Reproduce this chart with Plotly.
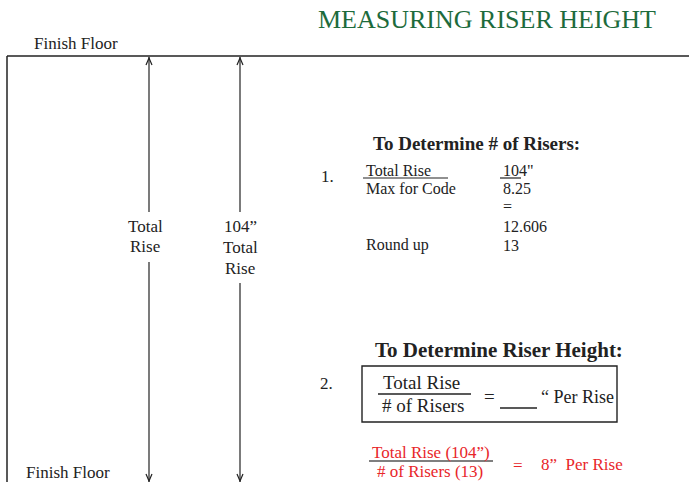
import plotly.graph_objects as go

# ---- values shown in the diagram ----
total_rise_in = 104
max_riser_code = 8.25
risers_exact = 12.606
risers_rounded = 13
riser_height_in = 8

title_text = "MEASURING RISER HEIGHT"
floor_labels = ["Finish Floor", "Finish Floor"]
step1_rows = ["Total Rise", "Max for Code", "", "", "Round up"]
step1_vals = [f'{total_rise_in}"', f"{max_riser_code}", "=", f"{risers_exact}", f"{risers_rounded}"]

W, H = 689, 482
SERIF = "'Liberation Serif', 'Times New Roman', serif"
INK = "#222222"
RED = "#e8262a"
GREEN = "#1d6b3c"

fig = go.Figure()
fig.add_trace(go.Scatter(x=[0, W], y=[0, H], mode="markers",
                         marker=dict(opacity=0), hoverinfo="skip", showlegend=False))

shapes = []
def line(x0, y0, x1, y1, color=INK, width=1.3):
    shapes.append(dict(type="line", x0=x0, y0=y0, x1=x1, y1=y1,
                       xref="x", yref="y", line=dict(color=color, width=width)))

def path(d, color=INK, width=1.2):
    shapes.append(dict(type="path", path=d, xref="x", yref="y",
                       line=dict(color=color, width=width)))

# floor frame
line(7, 56, W, 56, width=1.5)
line(7, 56, 7, H, width=1.5)

# dimension arrows
for ax, gap_top, gap_bot in [(149, 212, 262), (240, 212, 283)]:
    line(ax, 57, ax, gap_top, width=1.2)
    line(ax, gap_bot, ax, H, width=1.2)
    path(f"M {ax-3},65 L {ax},58 L {ax+3},65")
    path(f"M {ax-3},474 L {ax},481 L {ax+3},474")

anns = []
def txt(x, y, s, size=14, color=INK, anchor="left", bold=False):
    if bold:
        s = f"<b>{s}</b>"
    anns.append(dict(x=x, y=y, xref="x", yref="y", text=s, showarrow=False,
                     xanchor=anchor, yanchor="middle",
                     font=dict(family=SERIF, size=size, color=color)))

# title
txt(487, 19, title_text, size=26, color=GREEN, anchor="center")
# floor labels
txt(32, 43, floor_labels[0], size=17)
txt(24, 472, floor_labels[1], size=17)

# arrow labels
txt(145, 226, "Total", size=17, anchor="center")
txt(145, 246, "Rise", size=17, anchor="center")
txt(240, 226, f"{total_rise_in}\u201d", size=17, anchor="center")
txt(240, 247, "Total", size=17, anchor="center")
txt(240, 268, "Rise", size=17, anchor="center")

# step 1
txt(476, 143, "To Determine # of Risers:", size=19, anchor="center", bold=True)
txt(319, 176, "1.", size=17)
row_y = [170, 188, 206, 226, 245]
for y, lab, val in zip(row_y, step1_rows, step1_vals):
    if lab:
        txt(364, y, lab, size=16)
    txt(501, y, val, size=16)
line(363, 178, 448, 178, width=1.2)
line(500, 178, 521, 178, width=1.2)

# step 2
txt(499, 350, "To Determine Riser Height:", size=21, anchor="center", bold=True)
txt(318, 383, "2.", size=17)
shapes.append(dict(type="rect", x0=362, y0=366, x1=617, y1=422, xref="x", yref="y",
                   line=dict(color=INK, width=1.4)))
txt(421, 382, "Total Rise", size=19, anchor="center")
line(378, 394, 471, 394, width=1.3)
txt(423, 405, "# of Risers", size=19, anchor="center")
txt(489, 396, "=", size=19, anchor="center")
line(500, 408, 537, 408, width=1.3)
txt(539, 397, "\u201c Per Rise", size=18)

# red worked example
txt(431, 452, f"Total Rise ({total_rise_in}\u201d)", size=17, color=RED, anchor="center")
line(369, 461, 493, 461, color="#555555", width=1.3)
txt(430, 471, f"# of Risers ({risers_rounded})", size=17, color=RED, anchor="center")
txt(518, 465, "=", size=17, color=RED, anchor="center")
txt(539, 464, f"{riser_height_in}\u201d  Per Rise", size=17, color=RED)

fig.update_layout(
    width=W, height=H, margin=dict(l=0, r=0, t=0, b=0),
    paper_bgcolor="white", plot_bgcolor="white",
    xaxis=dict(range=[0, W], visible=False, fixedrange=True),
    yaxis=dict(range=[H, 0], visible=False, fixedrange=True),
    shapes=shapes, annotations=anns, showlegend=False,
)
fig.write_html("out.html", config={"displayModeBar": False},
               post_script="document.body.style.margin='0';document.body.style.overflow='hidden';")
